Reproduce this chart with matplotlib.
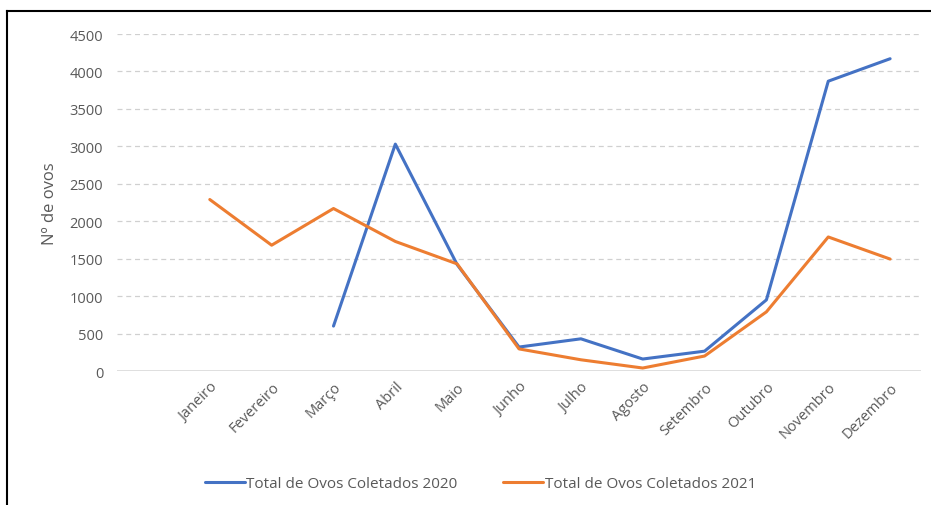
import matplotlib.pyplot as plt
from matplotlib.lines import Line2D
import numpy as np

meses = ['Janeiro', 'Fevereiro', 'Março', 'Abril', 'Maio', 'Junho', 'Julho',
         'Agosto', 'Setembro', 'Outubro', 'Novembro', 'Dezembro']
ovos_2020 = [np.nan, np.nan, 600, 3030, 1420, 320, 430, 160, 265, 950, 3870, 4170]
ovos_2021 = [2290, 1680, 2170, 1730, 1430, 295, 150, 40, 200, 790, 1790, 1495]

plt.rcParams['font.family'] = ['Open Sans', 'DejaVu Sans']
cinza = '#595959'

fig = plt.figure(figsize=(9.31, 5.06), dpi=100)
ax = fig.add_axes([0.1257, 0.2648, 0.8636, 0.666])

# primeira posição fica vazia, como no gráfico original
x = np.arange(1, 13)
ax.plot(x, ovos_2020, color='#4472C4', lw=2.2, label='Total de Ovos Coletados 2020',
        solid_capstyle='round', zorder=3)
ax.plot(x, ovos_2021, color='#ED7D31', lw=2.2, label='Total de Ovos Coletados 2021',
        solid_capstyle='round', zorder=3)

ax.set_xlim(-0.5, 12.5)
ax.set_ylim(0, 4500)
ax.set_yticks(range(0, 4501, 500))
ax.set_xticks(x)
ax.set_xticklabels(meses, rotation=45, ha='right', rotation_mode='anchor')
ax.tick_params(axis='both', length=0, labelsize=10.5, colors=cinza)
ax.tick_params(axis='x', pad=6)
ax.tick_params(axis='y', pad=10)

for v in range(500, 4501, 500):
    ax.axhline(v, color='#d0d0d0', lw=0.9, ls=(0, (4, 3)), zorder=1)
ax.axhline(0, color='#d9d9d9', lw=1.2, zorder=2)
for s in ax.spines.values():
    s.set_visible(False)

ax.set_ylabel('Nº de ovos', fontsize=12, color=cinza, labelpad=8)

fig.legend(loc='center', bbox_to_anchor=(0.516, 0.042), ncol=2, frameon=False,
           fontsize=11, labelcolor=cinza, handlelength=2.6, handletextpad=0.1,
           columnspacing=3.0)

# moldura superior e esquerda
fig.add_artist(Line2D([0.0075, 1.0], [0.976, 0.976], color='black', lw=1.5))
fig.add_artist(Line2D([0.0075, 0.0075], [0.0, 0.976], color='black', lw=1.5))

fig.savefig('out.png', dpi=100)
